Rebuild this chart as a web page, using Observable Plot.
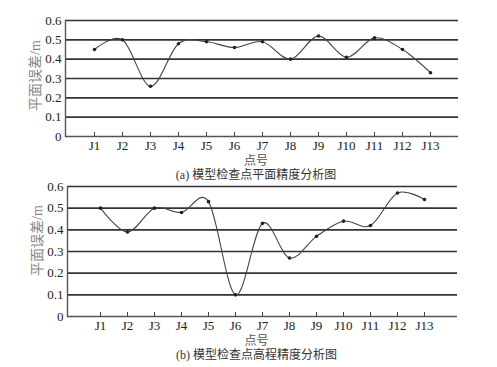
<!DOCTYPE html>
<html><head><meta charset="utf-8">
<script src="https://cdn.jsdelivr.net/npm/d3@7"></script>
<script src="https://cdn.jsdelivr.net/npm/@observablehq/plot@0.6"></script>
<style>
body{margin:0;background:#fff;}
#wrap{position:relative;width:497px;height:367px;overflow:hidden;}
#wrap svg{position:absolute;left:0;}
#wrap svg text{font-family:'Liberation Serif','Noto Sans CJK SC',serif !important;}
</style>
</head><body><div id="wrap"></div>
<script>
const points = ["J1","J2","J3","J4","J5","J6","J7","J8","J9","J10","J11","J12","J13"];
const planeError = [0.45,0.50,0.26,0.48,0.49,0.46,0.49,0.40,0.52,0.41,0.51,0.45,0.33];
const heightError = [0.50,0.39,0.50,0.48,0.53,0.10,0.43,0.27,0.37,0.44,0.42,0.57,0.54];
const yTicks = [0,0.1,0.2,0.3,0.4,0.5,0.6];
const gridTicks = [0.1,0.2,0.3,0.4,0.5,0.6];
const yLabel = "平面误差/m";
const xLabel = "点号";
const captionA = "(a) 模型检查点平面精度分析图";
const captionB = "(b) 模型检查点高程精度分析图";

const font = "'Liberation Serif','Noto Sans CJK SC',serif";
const lineColor = "#333";

function panel(values, caption, o) {
  const data = points.map((p, i) => ({p, v: values[i]}));
  const svg = Plot.plot({
    width: 497, height: o.height,
    marginLeft: o.left, marginRight: o.right, marginTop: o.top, marginBottom: o.bottom,
    style: {fontFamily: font, fontSize: "13px", color: "#333", background: "transparent"},
    x: {type: "point", domain: points, padding: 1, axis: null},
    y: {domain: [0, 0.6], axis: null},
    marks: [
      Plot.ruleY(gridTicks, {stroke: lineColor, strokeWidth: 1.6}),
      Plot.ruleY([0], {stroke: "#555", strokeWidth: 1.6}),
      Plot.frame({anchor: "left", stroke: "#555", strokeWidth: 1.4}),
      Plot.axisX({domain: points, tickSize: -4, tickPadding: 8, fontSize: 13, fontFamily: font, fill: "#222", label: null, stroke: "#444"}),
      Plot.axisY({ticks: yTicks, tickSize: 0, tickPadding: 4, fontSize: 13, fontFamily: font, fill: "#222", label: null, tickFormat: d => d === 0 ? "0" : d.toFixed(1)}),
      Plot.line(data, {x: "p", y: "v", curve: "cardinal", stroke: "#444", strokeWidth: 1.1}),
      Plot.dot(data, {x: "p", y: "v", r: 1.8, fill: "#222", stroke: null}),
      Plot.text([yLabel], {frameAnchor: "left", textAnchor: "middle", dx: -30, dy: o.ylabDy, rotate: -90, fontFamily: font, fontSize: 14, fill: "#888"}),
      Plot.text([xLabel], {frameAnchor: "bottom", dx: -6, dy: o.xlabDy, fontFamily: font, fontSize: 12, fill: "#555"}),
      Plot.text([caption], {frameAnchor: "bottom", dx: -6, dy: o.capDy, fontFamily: font, fontSize: 12, fill: "#333"})
    ]
  });
  svg.style.top = o.y + "px";
  return svg;
}
const wrap = document.getElementById("wrap");
wrap.appendChild(panel(planeError, captionA, {y: 0, height: 182, top: 20, bottom: 46, left: 65, right: 39, ylabDy: -3, xlabDy: 28, capDy: 42}));
wrap.appendChild(panel(heightError, captionB, {y: 180, height: 187, top: 6, bottom: 51, left: 67, right: 40, ylabDy: -11, xlabDy: 28, capDy: 42}));
</script></body></html>
